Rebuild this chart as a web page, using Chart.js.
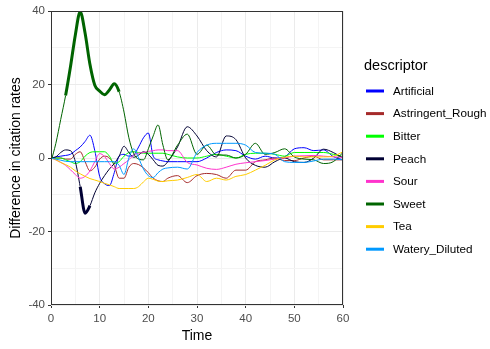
<!DOCTYPE html>
<html>
<head>
<meta charset="utf-8">
<script src="https://cdn.jsdelivr.net/npm/chart.js@4.4.1/dist/chart.umd.min.js"></script>
<style>
  html, body { margin: 0; padding: 0; background: #fff; }
  #chart { display: block; }
</style>
</head>
<body>
<canvas id="chart" width="490" height="349"></canvas>
<script>
// --- Data ---
const times = [0, 1, 2, 3, 4, 5, 6, 7, 8, 9, 10, 11, 12, 13, 14, 15, 16, 17, 18, 19, 20, 21, 22, 23, 24,
  26, 28, 30, 32, 34, 36, 38, 40, 42, 44, 46, 48, 50, 52, 54, 56, 58, 60];

const descriptors = ['Artificial', 'Astringent_Rough', 'Bitter', 'Peach', 'Sour', 'Sweet', 'Tea', 'Watery_Diluted'];
const colours = ['#0000FF', '#A52A2A', '#00FF00', '#000033', '#FF33CC', '#006400', '#FFCC00', '#0099FF'];

const artificial = [0, 0.3, 0.5, 0.7, 1, 2, 3, 4.5, 6.2, 2, -5, -7, -7.5, -4, 0.5, 1, 0.5, 0.8, 3, 5.5, 6.8, 0.5, -0.5, -0.8, -1,
  -1, -1, -1, 0, 1.5, 2.2, 2, 0.5, -0.3, 0.5, 0, 0.3, 2.5, 2.8, 2, 2.2, 0.4, -0.5];
const astringent = [0, 0, 0, -0.3, -0.3, 1, 1.7, -1, -3.5, -2.5, -0.3, 0.5, 0, -2, -5.5, -5.5, -2.5, -1.5, -1.8, -2.7, -4, -5.5, -6.2, -6.4, -5.5,
  -4.8, -6.7, -4.8, -4.2, -4.5, -5.5, -3.3, -3.3, -1, -0.5, 0, -0.7, -0.7, 0, 0.5, -0.5, -0.5, -0.5];
const bitter = [0, 0, 0, -0.5, -1, -1.5, -1, 0.5, 1.5, 1.7, 1.7, 1.7, 0.5, -1.5, -1, 0.5, 1.5, 1.7, 1.5, 1.3, 1.3, 1.3, 1.3, 1.3, 1,
  0.3, 0, 0, 0.5, 1, 0.5, 0, 1, 1.3, 1.3, 1, 0.5, 1.5, 1.5, 1.5, 1.5, 1, 0.4];
const peach = [0, 0.3, 1.5, 2.2, 2, -1, -7.8, -15, -13, -9.5, -6.9, -4.8, -3, -1.5, 0.5, 3.2, 1.5, 0.2, 0.8, 1.7, 1, -0.5, -2, -2.2, -1,
  3, 8.5, 6, 2, 0.3, 6, 5, 0, -2, -2.5, -1, 0, -1, -1.2, 0, 2.4, 1.5, 0];
const sour = [0, -0.5, -1.2, -2, -3.2, -4.5, -5.5, -5, -3.5, -1, 1.2, 0.4, -1.5, -3, -2.5, -1.5, -0.5, 0.8, 1.3, 1.5, 1.8, 2, 2.2, 2.2, 2,
  2, -1.2, -1.9, -2.8, -3.1, -2.5, -1.7, -1.3, -1, -0.7, -0.3, 0, 0.5, 0.6, 0.7, 0.5, 0.3, 0.2];
const sweet = [-1, 4, 10.5, 17, 24.8, 33.5, 39.8, 34, 25.5, 19.8, 18.2, 17.2, 18.5, 20.2, 18, 12.5, 5.5, 1.2, -0.3, -0.5, 2.5, 6, 9, 3.5, -0.5,
  3.5, 6.5, 1, 3.5, 0.8, 0.8, 0, 1, 4, 1, 1.5, 2.5, 0.3, -0.3, -0.5, -1.5, -1, 1.5];
const tea = [0, -0.5, -1.2, -1.8, -2.5, -3.5, -4.3, -5, -5.6, -6, -6.4, -6.9, -7.3, -7.8, -8.3, -8.3, -8.3, -8.3, -7.8, -6.5, -5.5, -5.8, -6.3, -6.4, -6.2,
  -6, -5.3, -4.5, -6.4, -5.5, -6, -5, -4.5, -3.3, -2, -0.5, 0.2, 0.5, 0.3, 0.3, 0.3, 0.5, 1.7];
const watery = [0, -0.3, -0.6, -0.9, -1, -1, -1, -1, -1, -1, -1, -1, -1, -1, -2, -4.5, 0, 2.5, 0, -3, -4.8, -5.3, -4, -3, -2.7,
  -2.5, -3, 1.5, 3.5, 4, 4, 4, 3.5, 1.5, 1.3, 1, -1, -1.2, -1.2, -0.8, -0.3, -0.3, -0.5];

const seriesValues = [artificial, astringent, bitter, peach, sour, sweet, tea, watery];

// time ranges drawn with a thicker line
const significant = { Sweet: [3, 14], Peach: [6, 8] };

const fontFamily = "'Liberation Sans', Arial, sans-serif";

// --- Build datasets ---
const datasets = descriptors.map((name, i) => {
  const sig = significant[name];
  return {
    label: name,
    data: times.map((t, j) => ({ x: t, y: seriesValues[i][j] })),
    borderColor: colours[i],
    backgroundColor: colours[i],
    borderWidth: 1,
    pointRadius: 0,
    cubicInterpolationMode: 'monotone',
    order: descriptors.length - i,
    segment: {
      borderWidth: ctx => (sig && ctx.p0.parsed.x >= sig[0] && ctx.p1.parsed.x <= sig[1]) ? 3 : 1
    }
  };
});

// --- Panel border + legend drawn by hand (ggplot look) ---
const panelAndLegend = {
  id: 'panelAndLegend',
  afterDatasetsDraw(chart) {
    const { ctx, chartArea: a } = chart;
    ctx.save();
    ctx.strokeStyle = '#333333';
    ctx.lineWidth = 1;
    ctx.strokeRect(a.left + 0.5, a.top + 0.5, a.right - a.left - 1, a.bottom - a.top - 1);
    ctx.restore();
  },
  afterDraw(chart) {
    const ctx = chart.ctx;
    ctx.save();
    ctx.textBaseline = 'middle';
    ctx.fillStyle = '#000';
    ctx.font = `14.5px ${fontFamily}`;
    ctx.fillText('descriptor', 364, 66);
    ctx.font = `11.7px ${fontFamily}`;
    descriptors.forEach((name, i) => {
      const y = 91 + i * 22.6;
      ctx.strokeStyle = colours[i];
      ctx.lineWidth = 3;
      ctx.beginPath();
      ctx.moveTo(366, y);
      ctx.lineTo(384, y);
      ctx.stroke();
      ctx.fillText(name, 393, y + 0.5);
    });
    ctx.restore();
  }
};

const gridColour = ctx => (ctx.tick && ctx.tick.value % 10 === 0 && ctx.scale.axis === 'x') ||
  (ctx.tick && ctx.tick.value % 20 === 0 && ctx.scale.axis === 'y') ? '#EBEBEB' : '#F4F4F4';

new Chart(document.getElementById('chart'), {
  type: 'line',
  data: { datasets },
  plugins: [panelAndLegend],
  options: {
    responsive: false,
    animation: false,
    devicePixelRatio: 1,
    layout: { padding: { top: 11, right: 147, left: 0, bottom: 0 } },
    plugins: { legend: { display: false }, tooltip: { enabled: false } },
    scales: {
      x: {
        type: 'linear',
        min: 0,
        max: 60,
        afterFit: s => { s.height = 44; },
        border: { display: false },
        grid: {
          color: gridColour,
          lineWidth: 1,
          tickLength: 3,
          tickWidth: 1,
          tickColor: ctx => ctx.tick.value % 10 === 0 ? '#333333' : 'rgba(0,0,0,0)'
        },
        ticks: {
          stepSize: 5,
          autoSkip: false,
          maxRotation: 0,
          padding: 4,
          color: '#4D4D4D',
          font: { family: fontFamily, size: 11.5 },
          callback: v => v % 10 === 0 ? v : ''
        },
        title: {
          display: true,
          text: 'Time',
          color: '#000',
          font: { family: fontFamily, size: 14 },
          padding: { top: 0, bottom: 4 }
        }
      },
      y: {
        min: -40,
        max: 40,
        afterFit: s => { s.width = 51; },
        border: { display: false },
        grid: {
          color: gridColour,
          lineWidth: 1,
          tickLength: 3,
          tickWidth: 1,
          tickColor: ctx => ctx.tick.value % 20 === 0 ? '#333333' : 'rgba(0,0,0,0)'
        },
        ticks: {
          stepSize: 10,
          autoSkip: false,
          padding: 3,
          color: '#4D4D4D',
          font: { family: fontFamily, size: 11.5 },
          callback: v => v % 20 === 0 ? v : ''
        },
        title: {
          display: true,
          text: 'Difference in citation rates',
          color: '#000',
          font: { family: fontFamily, size: 14 },
          padding: { top: 8, bottom: 0 }
        }
      }
    }
  }
});
</script>
</body>
</html>
